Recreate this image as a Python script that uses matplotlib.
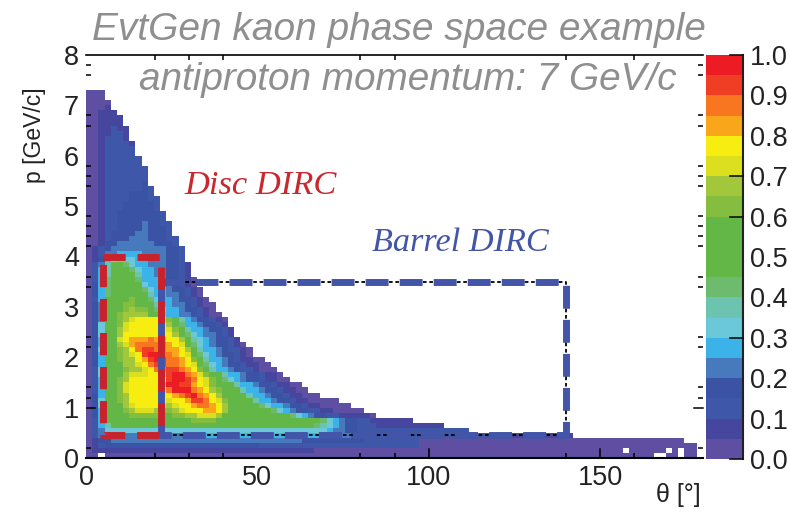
# kaon phase space map, theta vs momentum
import numpy as np
import matplotlib
matplotlib.use('Agg')
import matplotlib.pyplot as plt
from matplotlib.colors import ListedColormap, BoundaryNorm

plt.rcParams['font.family'] = ['Liberation Sans', 'DejaVu Sans']

# ----------------
# data
# ----------------
# colour band per cell (base 20), 1.8 deg x 0.1 GeV/c cells, top row (p=7.2) first
band_rows = [
    "0000",
    "0000",
    "00000",
    "000100",
    "001110",
    "0011110",
    "00111110",
    "00112110",
    "001122110",
    "001222110",
    "0012222100",
    "0012222210",
    "00122222100",
    "00122222210",
    "001222222100",
    "001222222210",
    "0012222222100",
    "0012222222210",
    "00122222232100",
    "00122222232210",
    "001222233322100",
    "001222233322210",
    "0012223333322100",
    "0012223333322210",
    "0012233333332210",
    "00122333333322100",
    "00122333343322210",
    "00122333343332210",
    "00123333443332100",
    "00123334443332210",
    "001334444443332100",
    "0123444444444332210",
    "01244555544443322100",
    "0135676655444332210",
    "0247998655444332100",
    "025799986554433210",
    "02579aa97554433210",
    "0258aaa98555433210",
    "0358aaaa9655443210",
    "0358aabba865543321",
    "0358abbba975544321",
    "0259abbcba8655433210",
    "0349abccbb975544321",
    "0349abcdcca865543321",
    "0349acddddb975544321",
    "0349bcdeffffec97543321",
    "0369bceffffffda85543321",
    "0369bdeffffffec975543321",
    "0369bdffffffffda865443210",
    "0359befggghggffda76543321",
    "0359bdeghhhhhgfeb86543321",
    "0369acdfhiihhggfda75543221",
    "0359acdefijjhhgfeb86543321",
    "0359acddfgijihhgfca75543211",
    "0359abddefhiihhgfeb865433211",
    "0269abcddefhhiihgfca75543221",
    "0269abdeeeffgijjhgeca9755433211",
    "0259acdffffffijjihfeca865433211",
    "0259acefffffgjjiigfecba9755433211",
    "0259aceffffffhjjjhgfdcba9755433211",
    "0359acdfffffffghijhgfdbba9755433211",
    "0369acdffffffeffgiihfecbaa9755433211",
    "0369abdeffffedeffghhgfdbaaa98655433211",
    "0359abcdeeedccdefffggfdbaaaaa98654332211",
    "0359aabcccccbbccddeeedbaaaaaaaaa98654332211111",
    "0259aaabbbbbbbbbbccccbbbaaaaaaaaaaaaa98654332211111111",
    "025799999999999999999999999999999999987654332221111111111111",
    "02466666666666666666666666666666666666654433222222222222222222",
    "02444444444444444445555555555555555555555443322222222222222222222221111111111111111",
    "013344444444444444444444444444444443333333333222222222",
    "012333333333333333333333333322222222222222222222222222",
    "0111111111111111111111111111111111111",
    "0",
]
# top of the filled area for each 1.8 deg column
upper_edge = [7.3, 7.3, 7.3, 7.1, 6.9, 6.8, 6.6, 6.3, 6.0, 5.8,
              5.4, 5.2, 4.9, 4.7, 4.4, 4.2, 3.9, 3.6, 3.4, 3.2,
              3.1, 2.9, 2.8, 2.6, 2.4, 2.3, 2.2, 2.0, 2.0, 1.9,
              1.8, 1.7, 1.6, 1.5, 1.5, 1.4, 1.3, 1.3, 1.2, 1.2,
              1.2, 1.1, 1.1, 1.0, 1.0, 0.9, 0.9, 0.8, 0.8, 0.8,
              0.8, 0.8, 0.8, 0.7, 0.7, 0.7, 0.7, 0.7, 0.6, 0.6,
              0.6, 0.6, 0.5, 0.5, 0.5, 0.5, 0.5, 0.5, 0.5, 0.5,
              0.5, 0.5, 0.5, 0.5, 0.5, 0.5, 0.5, 0.5, 0.5, 0.4,
              0.4, 0.4, 0.4, 0.4, 0.4, 0.4, 0.4, 0.4, 0.4, 0.4,
              0.4, 0.4, 0.4, 0.4, 0.4, 0.4, 0.4, 0.3, 0.3, 0.0]
# empty cells near the bottom edge
hole_col = [2, 87, 92, 93, 94, 96, 96]
hole_row = [0, 1, 0, 0, 1, 0, 1]
palette = ['#5e4fa2', '#46469f', '#3f57a8', '#3a53a4', '#4779bd',
           '#3bb3e9', '#6bc8d8', '#6cc4b0', '#6dbc6e', '#62b746',
           '#62b746', '#62b746', '#85bd3e', '#a3c73a', '#dbdf1d',
           '#f8ed10', '#faa61a', '#f7761f', '#ef3e23', '#ed1c24']

disc_theta = [5, 22, 22, 5, 5]
disc_p = [4.0, 4.0, 0.45, 0.45, 4.0]
barrel_theta = [22, 140, 140, 22, 22]
barrel_p = [3.5, 3.5, 0.45, 0.45, 3.5]

theta_labels = [0, 50, 100, 150]
p_labels = [0, 1, 2, 3, 4, 5, 6, 7, 8]
scale_labels = [0.0, 0.1, 0.2, 0.3, 0.4, 0.5, 0.6, 0.7, 0.8, 0.9, 1.0]
# only these tick marks survive in the picture
theta_marks = [20, 30, 40, 80, 90, 140, 160]
theta_long = [100, 150]
p_marks = [0.2, 1.2, 1.4, 2.2, 2.4, 3.4, 3.6, 4.2, 4.4, 4.6, 4.8, 5.4, 5.6, 5.8, 6.6, 6.8, 7.6, 7.8]
p_long = [1.0]
scale_marked = [0.0, 0.3, 0.6, 0.7, 1.0]

# ----------------
# build histogram
# ----------------
bands = np.array([[int(c, 20) for c in r.ljust(100, '0')] for r in band_rows[::-1]])
theta_edges = np.arange(101) * 1.8
p_edges = np.arange(bands.shape[0] + 1) * 0.1
p_mid = (p_edges[:-1] + p_edges[1:]) / 2
inside = p_mid[:, None] < np.array(upper_edge)[None, :]
inside[hole_row, hole_col] = False
values = np.ma.masked_where(~inside, (bands + 0.5) * 0.05)

cmap = ListedColormap(palette)
norm = BoundaryNorm(np.linspace(0, 1, 21), 20)

# ----------------
# plot
# ----------------
W, H = 788, 514
fig = plt.figure(figsize=(W / 100, H / 100), dpi=100)
ax = fig.add_axes([86 / W, 1 - 458 / H, (703 - 86) / W, (458 - 55) / H])
mesh = ax.pcolormesh(theta_edges, p_edges, values, cmap=cmap, norm=norm)
ax.set_xlim(0, 180)
ax.set_ylim(0, 8)

# black dash-dot frame with the thick coloured dashes
ax.plot(barrel_theta, barrel_p, color='#4355a8', lw=5, dash_capstyle='butt',
        linestyle=(0, (3.3, 1.6)), zorder=3)
ax.plot(barrel_theta, barrel_p, color='black', lw=1.3, dash_capstyle='butt',
        linestyle=(5.3, (2, 1.5, 2, 13.3)), zorder=3.2)
ax.plot(disc_theta, disc_p, color='#c8232c', lw=5, dash_capstyle='butt',
        linestyle=(0, (3.2, 1.7)), zorder=3.5)

ax.spines['left'].set_visible(False)
ax.spines['right'].set_visible(False)
ax.spines['top'].set_linewidth(1.2)
ax.spines['bottom'].set_linewidth(1.5)

ax.set_xticks(theta_labels)
ax.set_yticks(p_labels)
ax.set_xticks(theta_marks, minor=True)
ax.set_yticks(p_marks, minor=True)
ax.tick_params(which='major', labelsize=19.5, length=0, colors='#222222')
ax.tick_params(which='minor', direction='in', length=3.6, width=1.1, top=True, right=True, color='black')
ax.tick_params(axis='x', which='major', pad=5)
ax.tick_params(axis='y', which='major', pad=5)

# the long tick marks that are left
long_x = 9 / 403
long_y = 9 / 617
for v in theta_long:
    ax.plot([v, v], [0, long_x], color='black', lw=1.1, transform=ax.get_xaxis_transform(), zorder=3)
for v in p_long:
    ax.plot([0, long_y], [v, v], color='black', lw=1.1, transform=ax.get_yaxis_transform(), zorder=3)
    ax.plot([1, 1 - long_y], [v, v], color='black', lw=1.1, transform=ax.get_yaxis_transform(), zorder=3, clip_on=False)

# colour scale
cax = fig.add_axes([706 / W, 1 - 459 / H, 37 / W, 404 / H])
cbar = fig.colorbar(mesh, cax=cax, ticks=scale_labels, format='%.1f')
cbar.minorticks_off()
cbar.outline.set_visible(False)
cax.axvline(1, color='#222222', lw=1.5, clip_on=False)
cax.tick_params(labelsize=19.5, length=0, pad=5, colors='#222222')
for v in scale_marked:
    cax.plot([0.66, 1], [v, v], color='#111111', lw=1.2, clip_on=False)

# ----------------
# texts
# ----------------
def px_text(x, y, s, **kw):
    fig.text(x / W, 1 - y / H, s, va='center', **kw)

px_text(399, 30, 'EvtGen kaon phase space example', ha='center', color='#8f8f8f', fontsize=28, style='italic')
px_text(408, 80, 'antiproton momentum: 7 GeV/c', ha='center', color='#8f8f8f', fontsize=27.9, style='italic')
px_text(261, 186, 'Disc DIRC', ha='center', color='#c8282e', fontsize=24.8, style='italic', family='Liberation Serif')
px_text(460, 243, 'Barrel DIRC', ha='center', color='#4355a5', fontsize=24.7, style='italic', family='Liberation Serif')
px_text(35, 135, 'p [GeV/c]', ha='center', rotation=90, color='#222222', fontsize=16.5)
px_text(678, 495, '\u03b8 [\u00b0]', ha='center', color='#222222', fontsize=18)

fig.savefig('out.png', dpi=100)
